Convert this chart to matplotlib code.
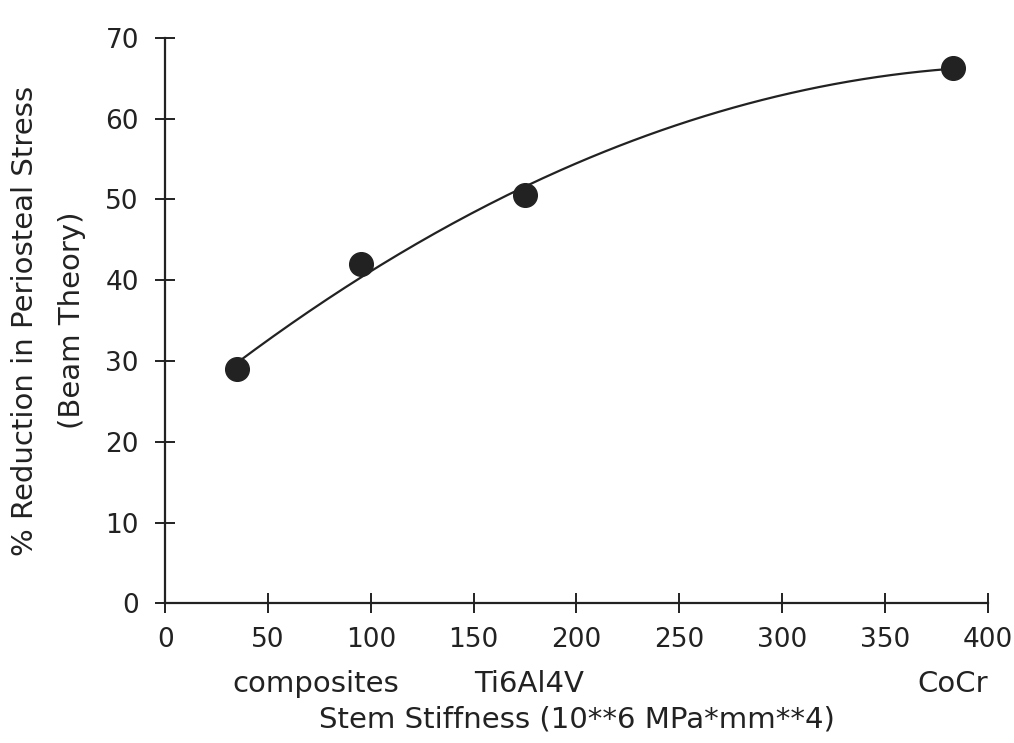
import numpy as np
import matplotlib.pyplot as plt

# data
stiffness = [35, 95, 175, 383]
reduction = [29.0, 42.0, 50.6, 66.3]
materials = ['composites', 'Ti6Al4V', 'CoCr']
material_x = [73, 177, 400]

plt.rcParams['font.family'] = ['DejaVu Sans']

fig = plt.figure(figsize=(10.14, 7.43), dpi=100)
ax = fig.add_axes([0.163, 0.188, 0.811, 0.761])

# smooth 2nd order fit through the points
coef = np.polyfit(stiffness, reduction, 2)
xs = np.linspace(min(stiffness), max(stiffness), 200)
ax.plot(xs, np.polyval(coef, xs), color='#222222', lw=1.6, zorder=2)
ax.scatter(stiffness, reduction, s=290, color='#222222', zorder=3)

ax.set_xlim(0, 400)
ax.set_ylim(0, 70)
ax.set_xticks(range(0, 401, 50))
ax.set_yticks(range(0, 71, 10))
ax.spines['top'].set_visible(False)
ax.spines['right'].set_visible(False)
for s in ['left', 'bottom']:
    ax.spines[s].set_linewidth(1.6)
    ax.spines[s].set_color('#222222')
ax.tick_params(direction='inout', length=14, width=1.4, labelsize=19,
               color='#222222', labelcolor='#222222')
ax.tick_params(axis='x', pad=10)
ax.tick_params(axis='y', pad=12)

trans = ax.get_xaxis_transform()
for name, x in zip(materials, material_x):
    ha = 'right' if x == 400 else 'center'
    ax.text(x, -0.142, name, transform=trans, ha=ha, va='center',
            fontsize=21, color='#222222')

ax.set_xlabel('Stem Stiffness (10**6 MPa*mm**4)', fontsize=21,
              color='#222222', va='center')
ax.xaxis.set_label_coords(0.5, -0.206)
ax.set_ylabel('% Reduction in Periosteal Stress\n(Beam Theory)', fontsize=21,
              color='#222222', linespacing=1.85, va='center')
ax.yaxis.set_label_coords(-0.142, 0.5)

fig.savefig('out.png', dpi=100)
